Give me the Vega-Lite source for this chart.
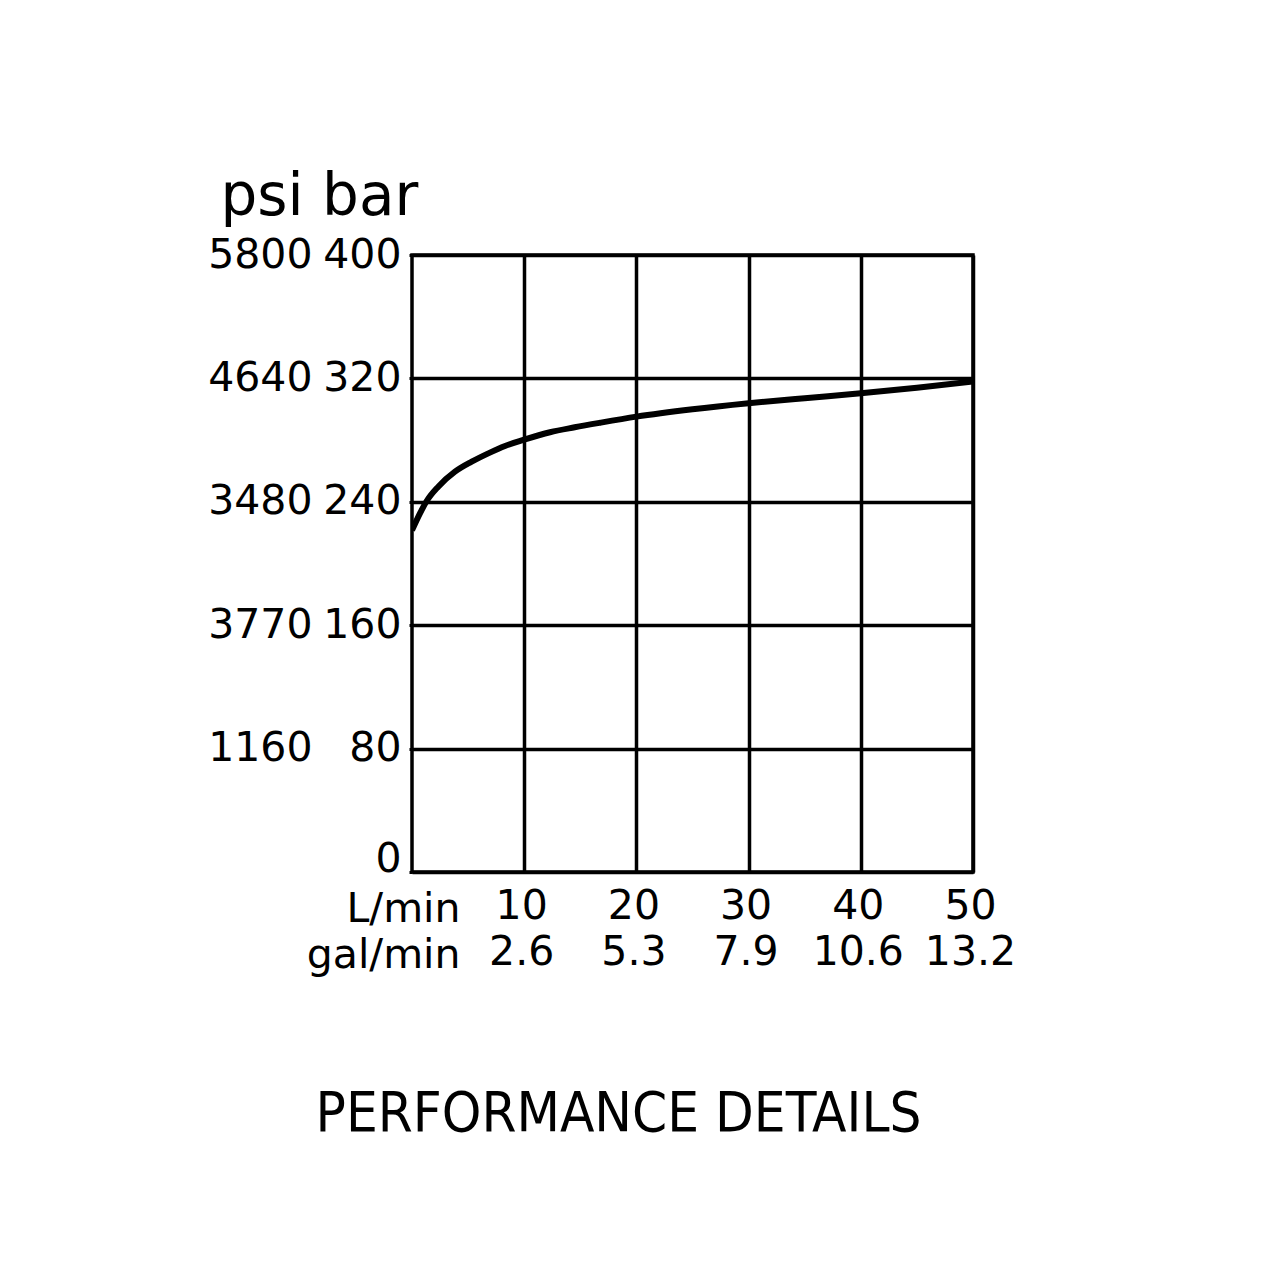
{
  "$schema": "https://vega.github.io/schema/vega-lite/v6.json",
  "autosize": {"type": "none"},
  "padding": {"left": 412, "top": 255, "right": 307, "bottom": 408},
  "width": 561,
  "height": 617,
  "background": "white",
  "config": {
    "view": {"stroke": "black", "strokeWidth": 3.5},
    "font": "DejaVu Sans"
  },
  "title": {
    "text": "PERFORMANCE DETAILS",
    "orient": "bottom",
    "frame": "group",
    "anchor": "middle",
    "dx": -74,
    "offset": 112,
    "font": "DejaVu Sans Condensed, DejaVu Sans",
    "fontSize": 56,
    "fontWeight": "normal",
    "color": "black"
  },
  "data": {
    "values": [
      {"flow": 0, "bar": 221.5},
      {"flow": 0.71, "bar": 232.5},
      {"flow": 1.31, "bar": 240.5},
      {"flow": 2.34, "bar": 249.8},
      {"flow": 3.83, "bar": 259.5},
      {"flow": 5.32, "bar": 266},
      {"flow": 6.8, "bar": 271.4},
      {"flow": 8.29, "bar": 276.2},
      {"flow": 9.92, "bar": 280.1},
      {"flow": 12.3, "bar": 285.1},
      {"flow": 14.5, "bar": 288.3},
      {"flow": 16.8, "bar": 291.3},
      {"flow": 20, "bar": 295.2},
      {"flow": 25, "bar": 300},
      {"flow": 30, "bar": 303.9},
      {"flow": 35, "bar": 307.2},
      {"flow": 40, "bar": 310.3},
      {"flow": 45, "bar": 314},
      {"flow": 50, "bar": 318}
    ]
  },
  "resolve": {"axis": {"y": "independent"}},
  "layer": [
    {
      "mark": {"type": "line", "color": "black", "strokeWidth": 6, "interpolate": "monotone", "clip": true},
      "encoding": {
        "x": {
          "field": "flow", "type": "quantitative",
          "scale": {"domain": [0, 50], "nice": false, "zero": true},
          "axis": {
            "values": [10, 20, 30, 40, 50],
            "labelExpr": "datum.value == 10 ? ['10', '2.6'] : datum.value == 20 ? ['20', '5.3'] : datum.value == 30 ? ['30', '7.9'] : datum.value == 40 ? ['40', '10.6'] : ['50', '13.2']",
            "labelFontSize": 41,
            "labelColor": "black",
            "labelLineHeight": 46,
            "labelPadding": 14,
            "labelBaseline": "top",
            "labelFlush": false,
            "labelOverlap": false,
            "labelOffset": -3,
            "domain": false,
            "ticks": false,
            "grid": true,
            "gridColor": "black",
            "gridWidth": 3.5,
            "gridOpacity": 1,
            "title": ["L/min", "gal/min"],
            "titleFontSize": 41,
            "titleFontWeight": "normal",
            "titleColor": "black",
            "titleLineHeight": 46,
            "titleAlign": "right",
            "titleAnchor": "start",
            "titleBaseline": "top",
            "titleX": 48,
            "titleY": 17
          }
        },
        "y": {
          "field": "bar", "type": "quantitative",
          "scale": {"domain": [0, 400], "nice": false},
          "axis": {
            "orient": "left",
            "values": [0, 80, 160, 240, 320, 400],
            "format": "d",
            "labelFontSize": 41,
            "labelColor": "black",
            "labelPadding": 8,
            "labelBaseline": "middle",
            "labelOffset": {"condition": {"test": "datum.value == 0", "value": -13}, "value": 0},
            "labelFlush": false,
            "labelOverlap": false,
            "domain": false,
            "ticks": true,
            "tickSize": 3,
            "tickWidth": 3,
            "tickColor": "black",
            "grid": true,
            "gridColor": "black",
            "gridWidth": 3.5,
            "gridOpacity": 1,
            "title": "psi bar",
            "titleAngle": 0,
            "titleFontSize": 58,
            "titleFontWeight": "normal",
            "titleColor": "black",
            "titleAlign": "left",
            "titleBaseline": "alphabetic",
            "titleX": -192,
            "titleY": -41
          }
        }
      }
    },
    {
      "mark": {"type": "line", "strokeOpacity": 0},
      "encoding": {
        "x": {"field": "flow", "type": "quantitative"},
        "y": {
          "field": "bar", "type": "quantitative",
          "axis": {
            "orient": "left",
            "offset": 92,
            "values": [80, 160, 240, 320, 400],
            "labelExpr": "datum.value == 400 ? '5800' : datum.value == 320 ? '4640' : datum.value == 240 ? '3480' : datum.value == 160 ? '3770' : datum.value == 80 ? '1160' : ''",
            "labelFontSize": 41,
            "labelColor": "black",
            "labelPadding": 8,
            "labelBaseline": "middle",
            "labelOffset": 0,
            "labelFlush": false,
            "labelOverlap": false,
            "domain": false,
            "ticks": false,
            "grid": false,
            "title": null
          }
        }
      }
    }
  ]
}
